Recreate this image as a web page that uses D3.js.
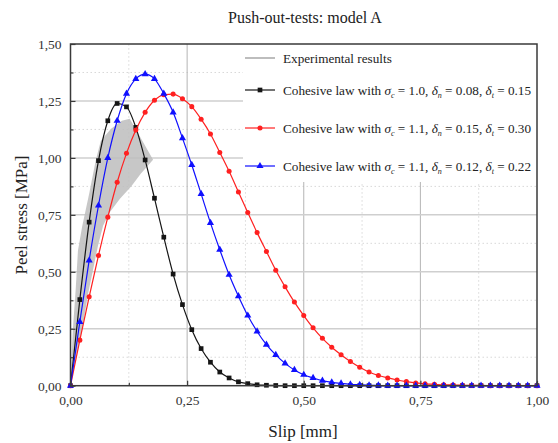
<!DOCTYPE html>
<html>
<head>
<meta charset="utf-8">
<script src="https://d3js.org/d3.v7.min.js"></script>
<style>
  body { margin: 0; background: #fff; }
  svg { display: block; font-family: "Liberation Serif", "Times New Roman", serif; }
</style>
</head>
<body>
<div id="chart"></div>
<script>
// Slip positions of the markers (mm)
const slip = [0, 0.02, 0.04, 0.06, 0.08, 0.10, 0.12, 0.14, 0.16, 0.18, 0.20, 0.22, 0.24, 0.26, 0.28, 0.30,
  0.32, 0.34, 0.36, 0.38, 0.40, 0.42, 0.44, 0.46, 0.48, 0.50, 0.52, 0.54, 0.56, 0.58, 0.60, 0.62, 0.64,
  0.66, 0.68, 0.70, 0.72, 0.74, 0.76, 0.78, 0.80, 0.82, 0.84, 0.86, 0.88, 0.90, 0.92, 0.94, 0.96, 0.98, 1.00];

// Peel stress (MPa) for each cohesive law
const stressA = [0, 0.378, 0.718, 0.988, 1.163, 1.239, 1.224, 1.134, 0.991, 0.823, 0.652, 0.49, 0.356, 0.246,
  0.163, 0.103, 0.06, 0.034, 0.017, 0.009, 0.004, 0.002, 0.001, 0, 0, 0, 0, 0, 0, 0, 0, 0, 0, 0, 0, 0, 0, 0,
  0, 0, 0, 0, 0, 0, 0, 0, 0, 0, 0, 0, 0];
const stressB = [0, 0.2, 0.39, 0.572, 0.74, 0.893, 1.02, 1.122, 1.2, 1.253, 1.277, 1.28, 1.26, 1.225, 1.17,
  1.105, 1.024, 0.941, 0.85, 0.76, 0.672, 0.589, 0.507, 0.434, 0.367, 0.308, 0.254, 0.208, 0.169, 0.136,
  0.106, 0.081, 0.060, 0.045, 0.034, 0.025, 0.018, 0.012, 0.008, 0.006, 0.004, 0.003, 0.002, 0.001, 0.001,
  0, 0, 0, 0, 0, 0];
const stressC = [0, 0.28, 0.55, 0.791, 1.0, 1.163, 1.282, 1.347, 1.368, 1.347, 1.282, 1.2, 1.087, 0.969,
  0.842, 0.715, 0.597, 0.487, 0.393, 0.308, 0.238, 0.18, 0.135, 0.098, 0.069, 0.048, 0.034, 0.022, 0.015,
  0.010, 0.006, 0.004, 0.002, 0.001, 0, 0, 0, 0, 0, 0, 0, 0, 0, 0, 0, 0, 0, 0, 0, 0, 0];

// Experimental band outline (upper edge then lower edge back to origin)
const bandX = [0, 0.005, 0.011, 0.016, 0.025, 0.040, 0.054, 0.065, 0.087, 0.110, 0.127, 0.150, 0.177,
  0.151, 0.130, 0.106, 0.085, 0.070, 0.059, 0.048, 0.037, 0.027, 0.014];
const bandY = [0, 0.244, 0.419, 0.594, 0.699, 0.843, 0.988, 1.075, 1.128, 1.163, 1.172, 1.09, 0.992,
  0.931, 0.874, 0.821, 0.764, 0.703, 0.616, 0.506, 0.397, 0.266, 0.148];

const xTicks = [0, 0.25, 0.5, 0.75, 1.0];
const yTicks = [0, 0.25, 0.5, 0.75, 1.0, 1.25, 1.5];

const seriesNames = ["A", "B", "C"];
const legendParams = [["1.0", "0.08", "0.15"], ["1.1", "0.15", "0.30"], ["1.1", "0.12", "0.22"]];

const W = 558, H = 443;
const svg = d3.select("#chart").append("svg").attr("width", W).attr("height", H);

const x = d3.scaleLinear().domain([0, 1]).range([70.5, 537]);
const y = d3.scaleLinear().domain([0, 1.5]).range([385.7, 44]);
const fmt = d => d3.format(".2f")(d).replace(".", ",");

// minor dotted grid
const minorX = d3.range(0.125, 1, 0.25), minorY = d3.range(0.125, 1.5, 0.25);
svg.append("g").selectAll("line").data(minorX).enter().append("line")
  .attr("x1", d => x(d)).attr("x2", d => x(d)).attr("y1", y(0)).attr("y2", y(1.5))
  .attr("stroke", "#d8d8d8").attr("stroke-dasharray", "1.5,2.5");
svg.append("g").selectAll("line").data(minorY).enter().append("line")
  .attr("x1", x(0)).attr("x2", x(1)).attr("y1", d => y(d)).attr("y2", d => y(d))
  .attr("stroke", "#d8d8d8").attr("stroke-dasharray", "1.5,2.5");

// major grid
svg.append("g").selectAll("line").data(xTicks.slice(1, -1)).enter().append("line")
  .attr("x1", d => x(d)).attr("x2", d => x(d)).attr("y1", y(0)).attr("y2", y(1.5))
  .attr("stroke", "#b4b4b4").attr("stroke-width", 1);
svg.append("g").selectAll("line").data(yTicks.slice(1, -1)).enter().append("line")
  .attr("x1", x(0)).attr("x2", x(1)).attr("y1", d => y(d)).attr("y2", d => y(d))
  .attr("stroke", "#cfcfcf").attr("stroke-width", 1.5);

// legend background hides the grid
svg.append("rect").attr("x", 243).attr("y", y(1.5)).attr("width", x(1) - 243).attr("height", 138)
  .attr("fill", "#fff");

// experimental band
const band = bandX.map((v, i) => [x(v), y(bandY[i])]);
svg.append("path")
  .attr("d", d3.line().curve(d3.curveLinearClosed)(band))
  .attr("fill", "#bdbdbd").attr("fill-opacity", 0.85);

// series
const seriesData = [stressA, stressB, stressC];
const colors = ["#151515", "#ff2020", "#1010ff"];
const symbols = [d3.symbolSquare, d3.symbolCircle, d3.symbolTriangle];
const symSize = [22, 20, 22];
const line = d3.line().x(d => x(d[0])).y(d => y(d[1])).curve(d3.curveMonotoneX);

seriesData.forEach((vals, k) => {
  const pts = slip.map((s, i) => [s, vals[i]]);
  const g = svg.append("g").attr("class", "series-" + seriesNames[k]);
  g.append("path").datum(pts).attr("d", line)
    .attr("fill", "none").attr("stroke", colors[k]).attr("stroke-width", 1.2);
  g.selectAll("path.m").data(pts).enter().append("path").attr("class", "m")
    .attr("d", d3.symbol().type(symbols[k]).size(symSize[k]))
    .attr("transform", d => `translate(${x(d[0])},${y(d[1])})`)
    .attr("fill", colors[k]);
});

// frame
svg.append("rect").attr("x", x(0)).attr("y", y(1.5)).attr("width", x(1) - x(0)).attr("height", y(0) - y(1.5))
  .attr("fill", "none").attr("stroke", "#3a3a3a").attr("stroke-width", 1.5);

// ticks (inward) and labels
const yAxis = d3.axisLeft(y).tickValues(yTicks).tickSize(-5).tickPadding(9).tickFormat(fmt);
const yg = svg.append("g").attr("transform", `translate(${x(0)},0)`).call(yAxis);
yg.select(".domain").remove();
svg.append("g").attr("transform", `translate(${x(0)},0)`)
  .call(d3.axisLeft(y).tickValues(minorY).tickSize(-3).tickFormat(""))
  .select(".domain").remove();
const xAxis = d3.axisBottom(x).tickValues(xTicks).tickSize(-5).tickPadding(10).tickFormat(fmt);
const xg = svg.append("g").attr("transform", `translate(0,${y(0)})`).call(xAxis);
xg.select(".domain").remove();
svg.append("g").attr("transform", `translate(0,${y(0)})`)
  .call(d3.axisBottom(x).tickValues(minorX).tickSize(-3).tickFormat(""))
  .select(".domain").remove();
svg.selectAll(".tick line").attr("stroke", "#3a3a3a").attr("stroke-width", 1.2);
svg.selectAll(".tick text").attr("font-family", "Liberation Serif, Times New Roman, serif")
  .attr("font-size", 13.5).attr("fill", "#333");

// legend
const lx0 = 245, lx1 = 275, ltx = 283;
const rowsY = [58, 90, 128, 166];
const lfs = 13.2;
svg.append("line").attr("x1", lx0).attr("x2", lx1).attr("y1", rowsY[0]).attr("y2", rowsY[0])
  .attr("stroke", "#bdbdbd").attr("stroke-width", 2);
svg.append("text").attr("x", ltx).attr("y", rowsY[0] + 4.5).attr("font-size", lfs).attr("fill", "#222")
  .text("Experimental results");

legendParams.forEach((p, k) => {
  const ry = rowsY[k + 1];
  svg.append("line").attr("x1", lx0).attr("x2", lx1).attr("y1", ry).attr("y2", ry)
    .attr("stroke", colors[k]).attr("stroke-width", 1.2);
  svg.append("path").attr("d", d3.symbol().type(symbols[k]).size(symSize[k])())
    .attr("transform", `translate(${(lx0 + lx1) / 2},${ry})`).attr("fill", colors[k]);
  const t = svg.append("text").attr("x", ltx).attr("y", ry + 4.5).attr("font-size", lfs).attr("fill", "#222");
  t.append("tspan").text("Cohesive law with ");
  t.append("tspan").attr("font-style", "italic").text("σ");
  t.append("tspan").attr("font-size", 8).attr("dy", 3).attr("font-style", "italic").text("c");
  t.append("tspan").attr("dy", -3).text(" = " + p[0] + ", ");
  t.append("tspan").attr("font-style", "italic").text("δ");
  t.append("tspan").attr("font-size", 8).attr("dy", 3).attr("font-style", "italic").text("n");
  t.append("tspan").attr("dy", -3).text(" = " + p[1] + ", ");
  t.append("tspan").attr("font-style", "italic").text("δ");
  t.append("tspan").attr("font-size", 8).attr("dy", 3).attr("font-style", "italic").text("t");
  t.append("tspan").attr("dy", -3).text(" = " + p[2]);
});

// titles
svg.append("text").attr("x", 305).attr("y", 23).attr("text-anchor", "middle")
  .attr("font-size", 16).attr("fill", "#222").text("Push-out-tests: model A");
svg.append("text").attr("x", 303).attr("y", 437).attr("text-anchor", "middle")
  .attr("font-size", 17).attr("fill", "#222").text("Slip [mm]");
svg.append("text").attr("transform", "rotate(-90)").attr("x", -215).attr("y", 27)
  .attr("text-anchor", "middle").attr("font-size", 17).attr("fill", "#222").text("Peel stress [MPa]");
</script>
</body>
</html>
